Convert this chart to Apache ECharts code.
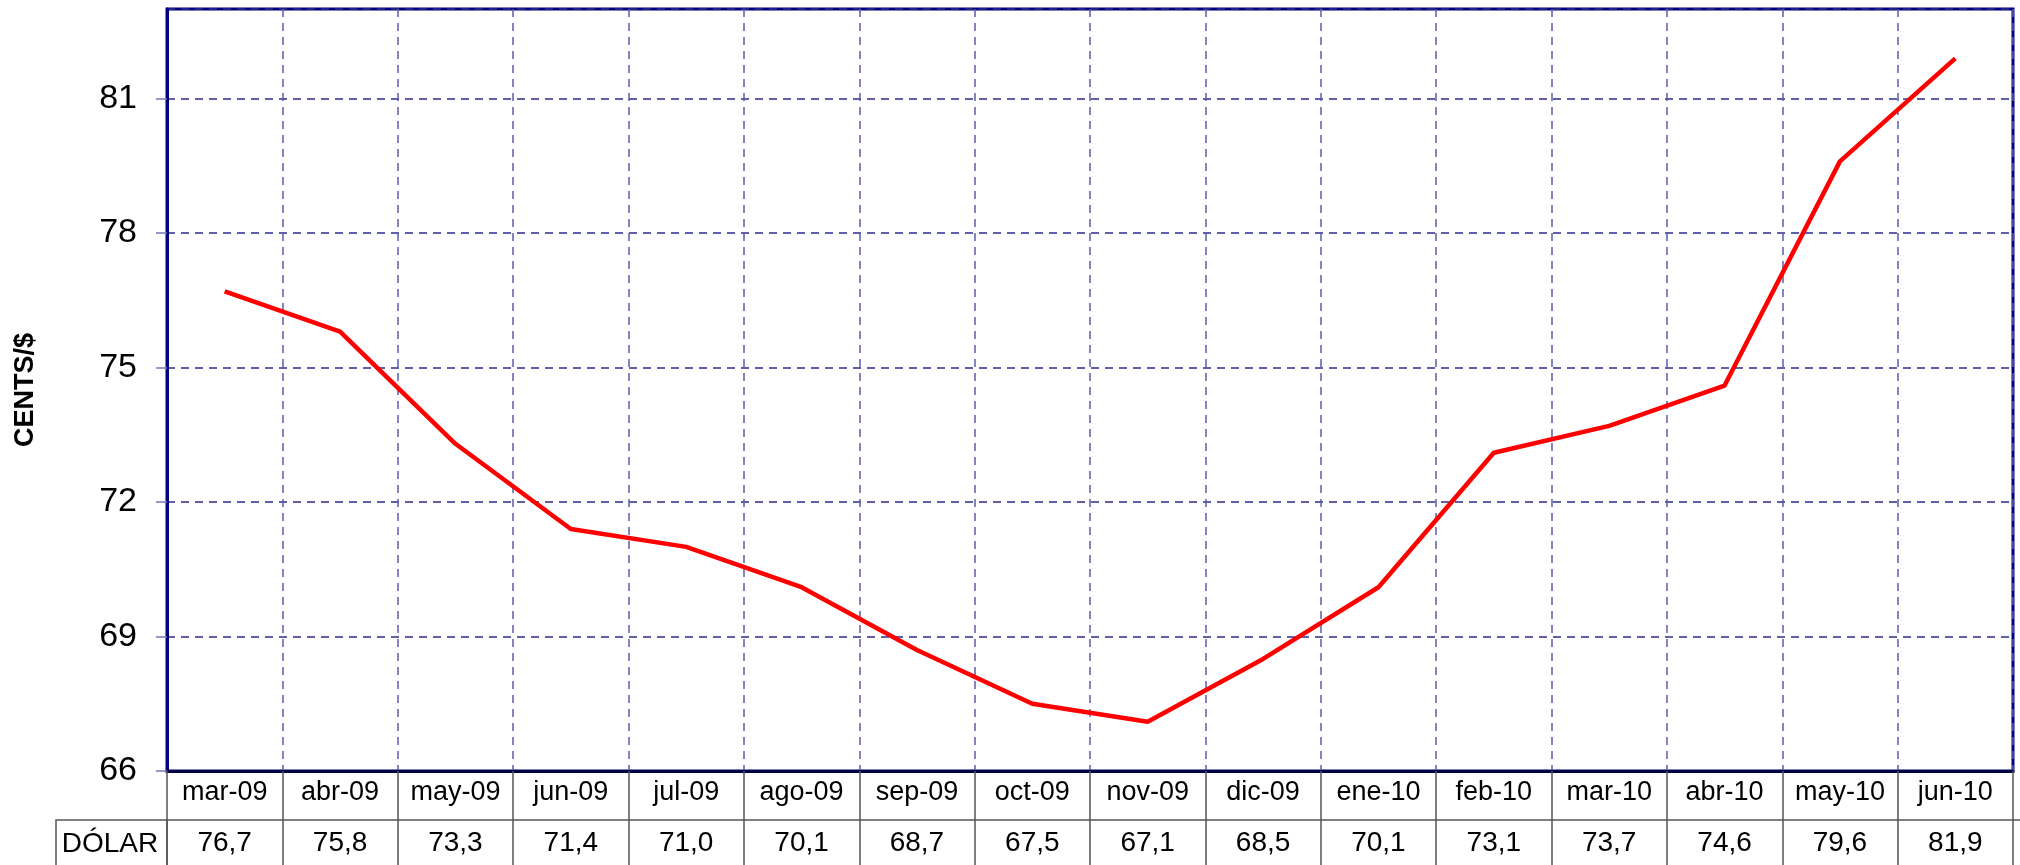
<!DOCTYPE html>
<html>
<head>
<meta charset="utf-8">
<script src="https://cdn.jsdelivr.net/npm/echarts@6/dist/echarts.min.js"></script>
<style>
html,body{margin:0;padding:0;background:#fff;}
#chart{width:2020px;height:865px;}
</style>
</head>
<body>
<div id="chart"></div>
<script>
const months = ['mar-09','abr-09','may-09','jun-09','jul-09','ago-09','sep-09','oct-09','nov-09','dic-09','ene-10','feb-10','mar-10','abr-10','may-10','jun-10'];
const dolar = [76.7, 75.8, 73.3, 71.4, 71.0, 70.1, 68.7, 67.5, 67.1, 68.5, 70.1, 73.1, 73.7, 74.6, 79.6, 81.9];
const seriesName = 'DÓLAR';
const yAxisName = 'CENTS/$';
const yMin = 66, yMax = 83, yStep = 3;

const FONT = '"Liberation Sans", Arial, sans-serif';
const fmt = v => v.toFixed(1).replace('.', ',');

const chart = echarts.init(document.getElementById('chart'), null, {renderer: 'canvas'});
chart.setOption({
  animation: false,
  backgroundColor: '#ffffff',
  grid: {left: 167, right: 7, top: 9, bottom: 94, containLabel: false, outerBoundsMode: 'none',
    show: true, borderColor: '#000080', borderWidth: 3, backgroundColor: 'transparent'},
  xAxis: [
    {
      type: 'category', data: months, boundaryGap: true, position: 'bottom',
      axisLine: {show: true, lineStyle: {color: '#000040', width: 3}},
      axisTick: {show: true, length: 49, interval: 0, lineStyle: {color: '#555555', width: 1.5}},
      axisLabel: {interval: 0, fontSize: 27, fontFamily: FONT, color: '#000', margin: 8},
      splitLine: {show: true, interval: 0, lineStyle: {color: '#5c5cae', width: 1.5, type: [8, 6]}}
    },
    {
      type: 'category', data: dolar.map(fmt), boundaryGap: true, position: 'bottom', offset: 49,
      axisLine: {show: true, lineStyle: {color: '#555555', width: 1.5}},
      axisTick: {show: true, length: 60, interval: 0, lineStyle: {color: '#555555', width: 1.5}},
      axisLabel: {interval: 0, fontSize: 28, fontFamily: FONT, color: '#000', margin: 9},
      splitLine: {show: false}
    }
  ],
  yAxis: {
    type: 'value', min: yMin, max: yMax, interval: yStep,
    name: yAxisName, nameLocation: 'middle', nameRotate: 90, nameGap: 128,
    nameTextStyle: {fontSize: 27, fontWeight: 'bold', fontFamily: FONT, color: '#000'},
    axisLine: {show: true, lineStyle: {color: '#000080', width: 3}},
    axisTick: {show: true, length: 11, lineStyle: {color: '#7777bb', width: 1.5}},
    axisLabel: {fontSize: 34, fontFamily: FONT, color: '#000', margin: 30, showMaxLabel: false,
      formatter: v => (v === yMax ? '' : String(v))},
    splitLine: {show: true, lineStyle: {color: '#2b2b8f', width: 1.5, type: [8, 6]}}
  },
  series: [{
    name: seriesName, type: 'line', data: dolar, xAxisIndex: 0,
    symbol: 'none', lineStyle: {color: '#ff0000', width: 4.5}, itemStyle: {color: '#ff0000'}
  }],
  graphic: [
    {type: 'rect', shape: {x: 56, y: 820, width: 111, height: 60}, style: {fill: 'none', stroke: '#555555', lineWidth: 1.5}, z: 10},
    {type: 'text', x: 110, y: 844, style: {text: seriesName, fontSize: 28, fontFamily: FONT, fill: '#000', align: 'center', verticalAlign: 'middle'}, z: 10},
    {type: 'line', shape: {x1: 2013, y1: 820, x2: 2020, y2: 820}, style: {stroke: '#555555', lineWidth: 1.5}, z: 10}
  ]
});
</script>
</body>
</html>
